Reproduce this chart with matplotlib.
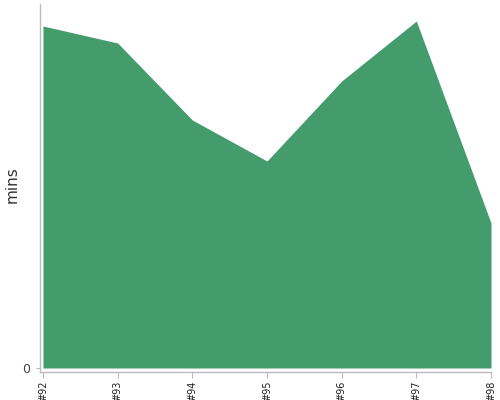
import matplotlib
matplotlib.use("Agg")
import matplotlib.pyplot as plt

categories = ["#92", "#93", "#94", "#95", "#96", "#97", "#98"]
values = [34.2, 32.5, 24.8, 20.7, 28.7, 34.7, 14.5]

fig = plt.figure(figsize=(5, 4), dpi=100)
ax = fig.add_axes([40/500, 1 - 372/400, 451/500, 368/400])
x = list(range(len(categories)))
ax.fill_between(x, 0, values, color="#449b6b", linewidth=0)
ax.set_xlim(-3/448*6, 6)
ax.set_ylim(-0.4, 36.4)
ax.set_xticks(x)
ax.set_xticklabels(categories, rotation=90, fontsize=7, color="#222222")
ax.set_yticks([0])
ax.set_yticklabels(["0"], fontsize=9, color="#444444")
ax.tick_params(axis="x", length=4, color="#bbbbbb", pad=2)
ax.tick_params(axis="y", length=3, color="#bbbbbb", pad=4)
for s in ["top", "right"]:
    ax.spines[s].set_visible(False)
for s in ["left", "bottom"]:
    ax.spines[s].set_color("#bbbbbb")
    ax.spines[s].set_linewidth(1)
ax.set_ylabel("mins", fontsize=11, color="#333333")
ax.yaxis.set_label_coords(-0.062, 0.508)
ax.yaxis.label.set_verticalalignment("center")
fig.savefig("out.png", dpi=100)
